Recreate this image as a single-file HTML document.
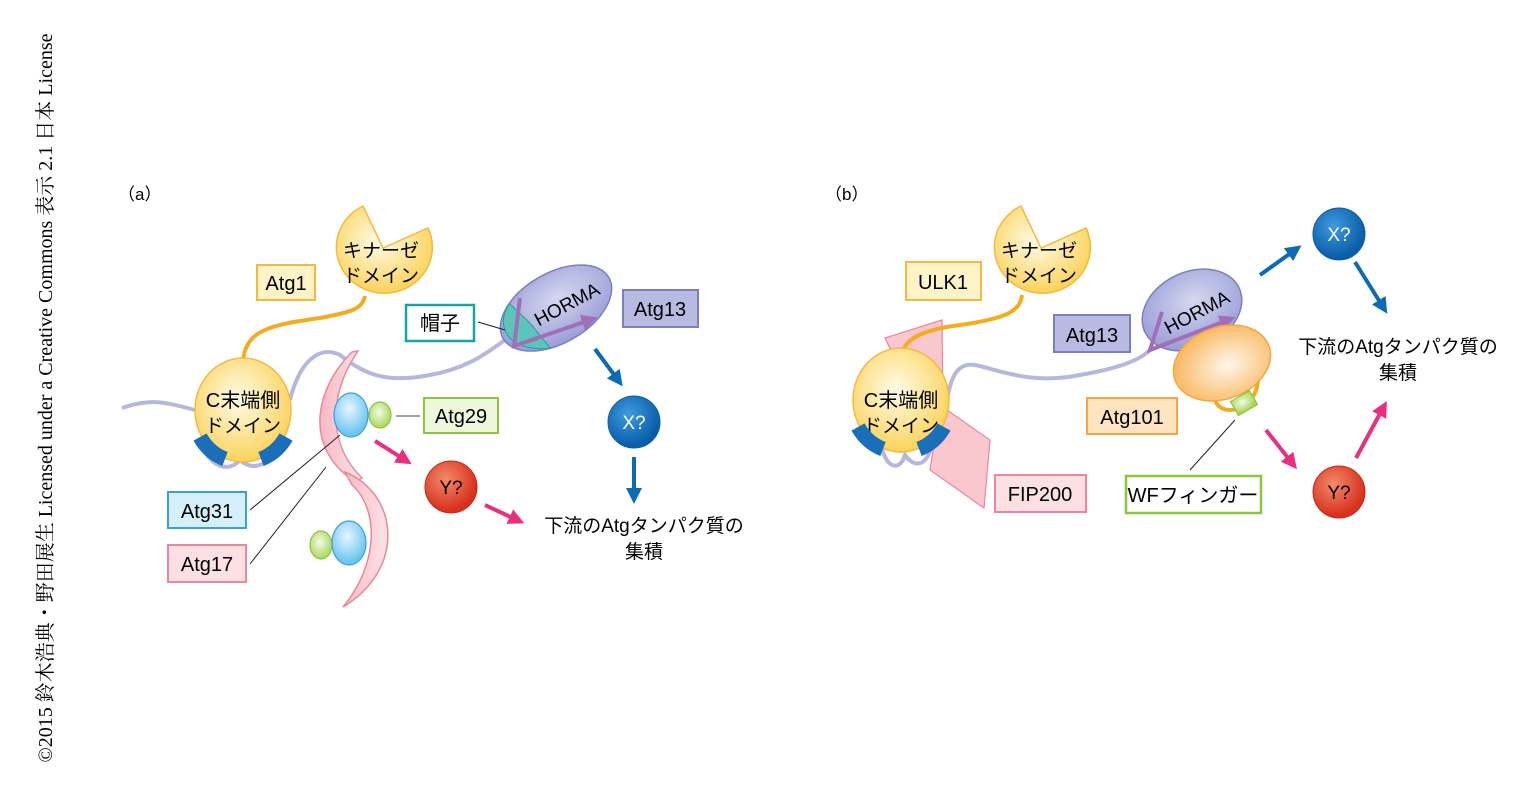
<!DOCTYPE html>
<html><head><meta charset="utf-8"><style>
html,body{margin:0;padding:0;background:#fff;}
svg{display:block;}
text{font-family:"Liberation Sans","Noto Sans CJK JP",sans-serif;}
</style></head><body>
<svg width="1539" height="792" viewBox="0 0 1539 792" xmlns="http://www.w3.org/2000/svg">
<defs>
<radialGradient id="yel" cx="45%" cy="40%" r="60%"><stop offset="0" stop-color="#fffbe8"/><stop offset="1" stop-color="#fbd35a"/></radialGradient>
<radialGradient id="blu" cx="45%" cy="35%" r="60%"><stop offset="0" stop-color="#e8f7ff"/><stop offset="1" stop-color="#6cc4f0"/></radialGradient>
<radialGradient id="grn" cx="45%" cy="40%" r="60%"><stop offset="0" stop-color="#f4fbe6"/><stop offset="1" stop-color="#a9d65a"/></radialGradient>
<radialGradient id="bx" cx="40%" cy="35%" r="60%"><stop offset="0" stop-color="#3f9be0"/><stop offset="1" stop-color="#0a5ea8"/></radialGradient>
<radialGradient id="ry" cx="40%" cy="35%" r="60%"><stop offset="0" stop-color="#f48a6a"/><stop offset="1" stop-color="#d8311e"/></radialGradient>
<radialGradient id="hor" cx="55%" cy="40%" r="60%"><stop offset="0" stop-color="#d5d7f0"/><stop offset="1" stop-color="#9a9ed6"/></radialGradient>
<radialGradient id="org" cx="55%" cy="55%" r="60%"><stop offset="0" stop-color="#fff6ea"/><stop offset="1" stop-color="#f8b457"/></radialGradient>
<linearGradient id="pk" x1="0" x2="1"><stop offset="0" stop-color="#f7b8c3"/><stop offset="1" stop-color="#fde4e8"/></linearGradient>
<marker id="mb" markerWidth="4" markerHeight="4" refX="2" refY="2" orient="auto"><path d="M0,0 L4,2 L0,4z" fill="#0d6bb5"/></marker>
<marker id="mp" markerWidth="4" markerHeight="4" refX="2" refY="2" orient="auto"><path d="M0,0 L4,2 L0,4z" fill="#e8307f"/></marker>
<marker id="mv" markerWidth="4" markerHeight="4" refX="2" refY="2" orient="auto"><path d="M0,0 L4,2 L0,4z" fill="#a06fb8"/></marker>
</defs>

<text transform="translate(52,398) rotate(-90)" text-anchor="middle" font-size="20" style="font-family:'Liberation Serif','Noto Serif CJK SC',serif">©2015 鈴木浩典・野田展生 Licensed under a Creative Commons 表示 2.1 日本 License</text>

<!-- PANEL A -->
<text x="118" y="200" font-size="17">（a）</text>
<path d="M122,408 C150,398 165,402 195,410" stroke="#b5b7dd" stroke-width="4" fill="none"/>
<path d="M200,440 C210,470 230,472 240,460 C250,470 270,470 278,440" stroke="#b5b7dd" stroke-width="4" fill="none"/>
<path d="M290,400 C300,360 320,345 340,355 C360,370 380,385 430,375 C470,368 490,350 505,340" stroke="#b5b7dd" stroke-width="4" fill="none"/>
<path d="M243,362 C245,330 270,325 320,318 C350,312 362,310 365,296" stroke="#f5ab1e" stroke-width="4" fill="none"/>
<path d="M363,206 A48,46 0 1 0 428,228 L383,248 Z" fill="url(#yel)" stroke="#f5b840" stroke-width="1.5"/>
<text x="381" y="257" font-size="19" text-anchor="middle">キナーゼ</text>
<text x="381" y="282" font-size="19" text-anchor="middle">ドメイン</text>
<rect x="257" y="265" width="58" height="35" fill="#fff3c7" stroke="#f5b840" stroke-width="2"/>
<text x="286" y="290" font-size="20" text-anchor="middle">Atg1</text>
<ellipse cx="243" cy="410" rx="48" ry="52" fill="url(#yel)" stroke="#f5b840" stroke-width="1.5"/>
<text x="243" y="407" font-size="20" text-anchor="middle">C末端側</text>
<text x="243" y="432" font-size="19" text-anchor="middle">ドメイン</text>
<path d="M200,437 A48,52 0 0 0 225,459" stroke="#1a6fb8" stroke-width="15" fill="none"/>
<path d="M261,459 A48,52 0 0 0 286,437" stroke="#1a6fb8" stroke-width="15" fill="none"/>
<!-- pink ribbons -->
<path d="M352,352 C318,385 300,445 355,482 L362,478 C328,445 328,395 358,351Z" fill="url(#pk)" stroke="#e8889a" stroke-width="1.5"/>
<path d="M345,472 C400,495 405,570 343,607 C378,565 380,510 352,485Z" fill="url(#pk)" stroke="#e8889a" stroke-width="1.5"/>
<ellipse cx="351" cy="415" rx="17" ry="22" fill="url(#blu)" stroke="#3aa0dc" stroke-width="1.2"/>
<ellipse cx="380" cy="415" rx="11" ry="13" fill="url(#grn)" stroke="#8cc63f" stroke-width="1.2"/>
<ellipse cx="321" cy="545" rx="11" ry="14" fill="url(#grn)" stroke="#8cc63f" stroke-width="1.2"/>
<ellipse cx="349" cy="543" rx="17" ry="22" fill="url(#blu)" stroke="#3aa0dc" stroke-width="1.2"/>
<line x1="396" y1="416" x2="420" y2="416" stroke="#444" stroke-width="1"/>
<rect x="424" y="398" width="74" height="35" fill="#eef6dc" stroke="#8cc63f" stroke-width="2"/>
<text x="461" y="423" font-size="20" text-anchor="middle">Atg29</text>
<line x1="250" y1="510" x2="340" y2="435" stroke="#222" stroke-width="1"/>
<line x1="250" y1="564" x2="326" y2="467" stroke="#222" stroke-width="1"/>
<rect x="168" y="492" width="78" height="36" fill="#d6effc" stroke="#3aa0dc" stroke-width="2"/>
<text x="207" y="518" font-size="20" text-anchor="middle">Atg31</text>
<rect x="168" y="545" width="78" height="37" fill="#fde0e4" stroke="#e8889a" stroke-width="2"/>
<text x="207" y="571" font-size="20" text-anchor="middle">Atg17</text>
<line x1="375" y1="441" x2="405" y2="460" stroke="#e8307f" stroke-width="4" marker-end="url(#mp)"/>
<circle cx="451" cy="487" r="26" fill="url(#ry)" stroke="#c02818" stroke-width="1"/>
<text x="451" y="494" font-size="19" text-anchor="middle">Y?</text>
<line x1="485" y1="505" x2="517" y2="520" stroke="#e8307f" stroke-width="4" marker-end="url(#mp)"/>
<!-- HORMA a -->
<g transform="translate(556,308) rotate(-30)">
<ellipse cx="0" cy="0" rx="61" ry="35" fill="url(#hor)" stroke="#7a7fc0" stroke-width="1.5"/>
<path d="M-38,-27 C-62,-16 -65,14 -25,32 L-30,0 Z" fill="#5cc4b8" stroke="#1aa3a3" stroke-width="1"/>
</g>
<text transform="translate(570,310) rotate(-28)" font-size="19" text-anchor="middle">HORMA</text>
<path d="M520,298 L514,346 L590,320" stroke="#a06fb8" stroke-width="4" fill="none" marker-end="url(#mv)"/>
<line x1="478" y1="322" x2="505" y2="330" stroke="#222" stroke-width="1"/>
<rect x="406" y="305" width="68" height="36" fill="#fff" stroke="#1aa3a3" stroke-width="2.5"/>
<text x="440" y="330" font-size="20" text-anchor="middle">帽子</text>
<rect x="623" y="290" width="75" height="37" fill="#b8bae2" stroke="#7a7fc0" stroke-width="2"/>
<text x="660" y="316" font-size="20" text-anchor="middle">Atg13</text>
<line x1="595" y1="349" x2="618" y2="380" stroke="#0d6bb5" stroke-width="4" marker-end="url(#mb)"/>
<circle cx="634" cy="422" r="26" fill="url(#bx)" stroke="#0a5ea8" stroke-width="1"/>
<text x="634" y="429" font-size="19" text-anchor="middle" fill="#fff">X?</text>
<line x1="634" y1="457" x2="634" y2="496" stroke="#0d6bb5" stroke-width="4" marker-end="url(#mb)"/>
<text x="644" y="532" font-size="19" text-anchor="middle">下流のAtgタンパク質の</text>
<text x="644" y="558" font-size="19" text-anchor="middle">集積</text>

<!-- PANEL B -->
<text x="825" y="200" font-size="17">（b）</text>
<polygon points="885,338 942,320 943,410 905,380" fill="#f9c8cf" stroke="#e8889a" stroke-width="1.2"/>
<polygon points="940,405 990,440 984,508 930,470" fill="#f9c8cf" stroke="#e8889a" stroke-width="1.2"/>
<path d="M880,440 C885,470 900,472 905,455 C915,470 930,465 932,440" stroke="#b5b7dd" stroke-width="4" fill="none"/>
<path d="M945,410 C950,380 955,362 975,365 C1000,370 1030,385 1080,375 C1120,368 1140,360 1150,350" stroke="#b5b7dd" stroke-width="4" fill="none"/>
<path d="M901,362 C900,340 920,330 960,325 C1010,318 1020,310 1022,295" stroke="#f5ab1e" stroke-width="4" fill="none"/>
<path d="M1021,206 A48,46 0 1 0 1086,228 L1041,248 Z" fill="url(#yel)" stroke="#f5b840" stroke-width="1.5"/>
<text x="1039" y="257" font-size="19" text-anchor="middle">キナーゼ</text>
<text x="1039" y="282" font-size="19" text-anchor="middle">ドメイン</text>
<rect x="906" y="262" width="75" height="38" fill="#fff3c7" stroke="#f5b840" stroke-width="2"/>
<text x="943" y="289" font-size="20" text-anchor="middle">ULK1</text>
<ellipse cx="901" cy="400" rx="48" ry="52" fill="url(#yel)" stroke="#f5b840" stroke-width="1.5"/>
<text x="901" y="407" font-size="20" text-anchor="middle">C末端側</text>
<text x="901" y="432" font-size="19" text-anchor="middle">ドメイン</text>
<path d="M858,427 A48,52 0 0 0 883,449" stroke="#1a6fb8" stroke-width="15" fill="none"/>
<path d="M919,449 A48,52 0 0 0 944,427" stroke="#1a6fb8" stroke-width="15" fill="none"/>
<rect x="995" y="475" width="91" height="37" fill="#fde0e4" stroke="#e8889a" stroke-width="2"/>
<text x="1040" y="501" font-size="20" text-anchor="middle">FIP200</text>
<ellipse cx="1192" cy="310" rx="52" ry="38" transform="rotate(-25 1192 310)" fill="url(#hor)" stroke="#7a7fc0" stroke-width="1.5"/>
<text transform="translate(1200,318) rotate(-28)" font-size="19" text-anchor="middle">HORMA</text>
<path d="M1162,312 L1150,350 L1228,320" stroke="#a06fb8" stroke-width="4" fill="none" marker-end="url(#mv)"/>
<rect x="1054" y="315" width="76" height="37" fill="#b8bae2" stroke="#7a7fc0" stroke-width="2"/>
<text x="1092" y="342" font-size="20" text-anchor="middle">Atg13</text>
<path d="M1214,390 C1212,410 1230,415 1245,405 C1258,395 1260,380 1256,370" stroke="#f5ab1e" stroke-width="4" fill="none"/>
<ellipse cx="1222" cy="363" rx="50" ry="36" transform="rotate(-20 1222 363)" fill="url(#org)" stroke="#f5a640" stroke-width="1.5"/>
<rect x="1233" y="395" width="22" height="16" transform="rotate(-30 1244 403)" fill="url(#grn)" stroke="#8cc63f" stroke-width="1.2"/>
<line x1="1190" y1="470" x2="1235" y2="420" stroke="#222" stroke-width="1"/>
<rect x="1087" y="398" width="90" height="36" fill="#fde3c0" stroke="#f5a640" stroke-width="2"/>
<text x="1132" y="424" font-size="20" text-anchor="middle">Atg101</text>
<rect x="1126" y="476" width="135" height="37" fill="#fff" stroke="#8cc63f" stroke-width="2.5"/>
<text x="1193" y="502" font-size="20" text-anchor="middle">WFフィンガー</text>
<line x1="1260" y1="275" x2="1295" y2="250" stroke="#0d6bb5" stroke-width="4" marker-end="url(#mb)"/>
<circle cx="1339" cy="234" r="26" fill="url(#bx)" stroke="#0a5ea8" stroke-width="1"/>
<text x="1339" y="241" font-size="19" text-anchor="middle" fill="#fff">X?</text>
<line x1="1355" y1="262" x2="1383" y2="307" stroke="#0d6bb5" stroke-width="4" marker-end="url(#mb)"/>
<text x="1398" y="353" font-size="19" text-anchor="middle">下流のAtgタンパク質の</text>
<text x="1398" y="379" font-size="19" text-anchor="middle">集積</text>
<line x1="1266" y1="430" x2="1292" y2="463" stroke="#e8307f" stroke-width="4" marker-end="url(#mp)"/>
<circle cx="1339" cy="492" r="26" fill="url(#ry)" stroke="#c02818" stroke-width="1"/>
<text x="1339" y="499" font-size="19" text-anchor="middle">Y?</text>
<line x1="1356" y1="458" x2="1383" y2="408" stroke="#e8307f" stroke-width="4" marker-end="url(#mp)"/>
</svg>
</body></html>
